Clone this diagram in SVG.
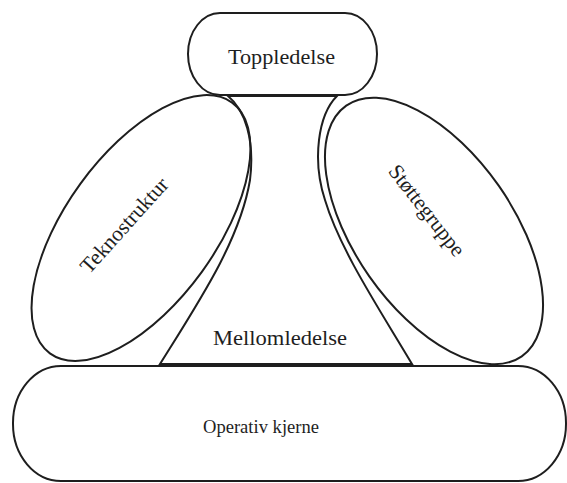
<svg xmlns="http://www.w3.org/2000/svg" width="567" height="483" viewBox="0 0 567 483">
  <style>
    .shape { fill: none; stroke: #1e1e1e; stroke-width: 2; }
    .lbl { font-family: "Liberation Serif", "Times New Roman", serif; font-size: 20px; fill: #1e1e1e; text-anchor: middle; }
  </style>
  <rect x="0" y="0" width="567" height="483" fill="#ffffff"/>
  <g id="mellomledelse">
    <path class="shape" d="M228,96 L337,96 C318,115 312,160 325,200 C340,250 380,310 412,364 L160,364 C200,300 240,240 250,180 C255,140 245,110 228,96 Z"/>
    <text class="lbl" x="280" y="345" textLength="134" lengthAdjust="spacingAndGlyphs">Mellomledelse</text>
  </g>
  <g id="toppledelse">
    <rect class="shape" x="188" y="13" width="189" height="82" rx="32" ry="41"/>
    <text class="lbl" x="281.5" y="64" textLength="107" lengthAdjust="spacingAndGlyphs">Toppledelse</text>
  </g>
  <g id="teknostruktur">
    <ellipse class="shape" cx="141" cy="228" rx="155" ry="75" transform="rotate(-54 141 228)"/>
    <text class="lbl" x="0" y="0" dy="6" style="font-size:21.5px" transform="translate(125 226) rotate(-48)">Teknostruktur</text>
  </g>
  <g id="stottegruppe">
    <ellipse class="shape" cx="434" cy="231" rx="153" ry="79" transform="rotate(55 434 231)"/>
    <text class="lbl" x="0" y="0" dy="6" style="font-size:21.5px" transform="translate(426 211) rotate(52)">Støttegruppe</text>
  </g>
  <g id="operativ-kjerne">
    <rect class="shape" x="13" y="366" width="553" height="115" rx="48" ry="57"/>
    <text class="lbl" x="261" y="433" style="font-size:19.5px" textLength="116" lengthAdjust="spacingAndGlyphs">Operativ kjerne</text>
  </g>
  <g id="connectors"></g>
</svg>
